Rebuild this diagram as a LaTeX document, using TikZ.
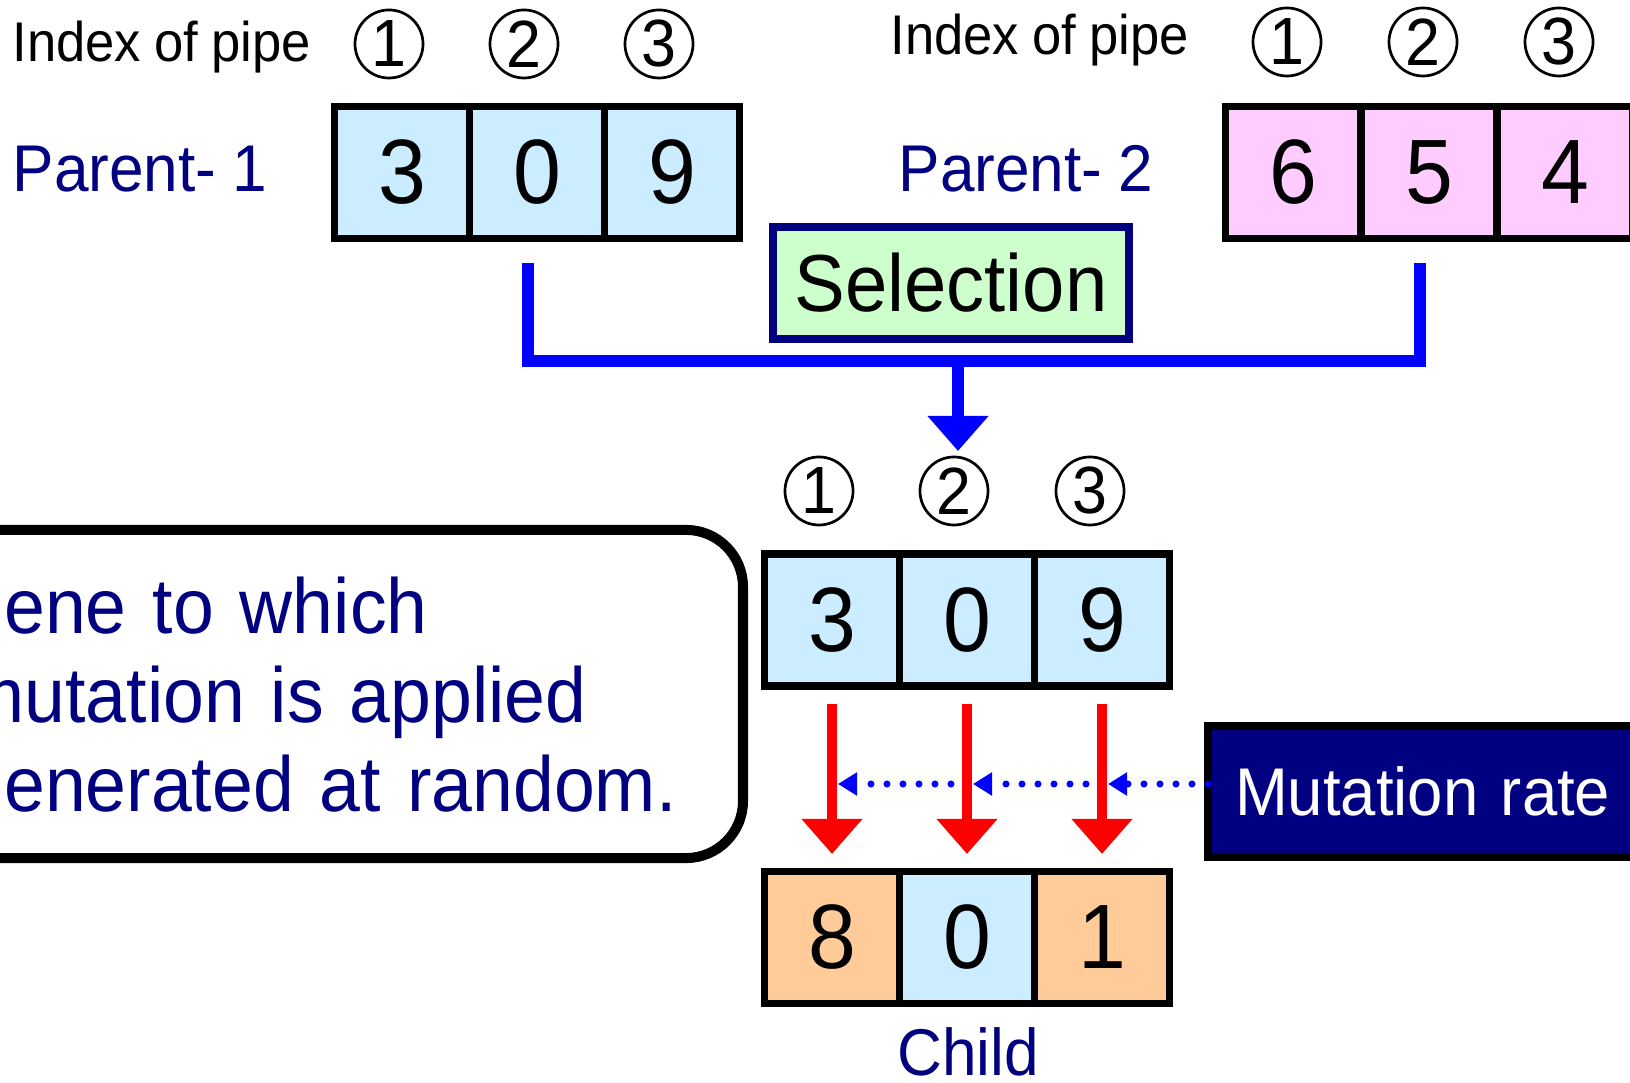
\documentclass[tikz,border=0pt]{standalone}
\usepackage{fontspec}
\setmainfont{Liberation Sans}[FakeStretch=0.94, WordSpace=0.9]
\usetikzlibrary{arrows.meta}

\definecolor{geneblue}{HTML}{CCECFF}
\definecolor{genepink}{HTML}{FFCCFF}
\definecolor{geneorange}{HTML}{FFCC99}
\definecolor{selgreen}{HTML}{CCFFCC}
\definecolor{navy}{HTML}{000080}

\tikzset{
  gene/.style={draw, line width=2.1pt, minimum width=1.35cm, minimum height=1.32cm,
    inner sep=0pt, outer sep=0pt, font=\fontsize{26}{26}\selectfont},
  idx/.style={circle, draw, line width=0.77pt, minimum size=0.68cm, inner sep=0pt,
    font=\fontsize{19}{19}\selectfont},
  pipetext/.style={inner sep=0pt, font=\fontsize{15.9}{15.9}\selectfont},
  navytext/.style={inner sep=0pt, text=navy, font=\fontsize{18.8}{18.8}\selectfont},
  selline/.style={blue, line width=3.4pt},
  mutarrow/.style={red, line width=3.1pt, -{Triangle[length=10pt,width=16.8pt]}},
  rateline/.style={blue, line width=2pt, line cap=round, dash pattern=on 0pt off 4.55pt,
    -{Triangle[length=5.4pt,width=6.3pt]}}
}

\begin{document}
\begin{tikzpicture}[x=0.01cm, y=-0.01cm]
  \path[use as bounding box, clip] (0,0) rectangle (1630,1083);

  % parent 1
  \node[pipetext, anchor=base west] (idxA) at (12,62) {Index of pipe};
  \node[idx] (a1) at (389,44) {1};
  \node[idx] (a2) at (524,44) {2};
  \node[idx] (a3) at (659,44) {3};
  \node[navytext, anchor=base west] (par1) at (12,192) {Parent- 1};
  \node[gene, fill=geneblue] (p11) at (402,172.5) {3};
  \node[gene, fill=geneblue] (p12) at (537,172.5) {0};
  \node[gene, fill=geneblue] (p13) at (672,172.5) {9};

  % parent 2
  \node[pipetext, anchor=base west] (idxB) at (890,55) {Index of pipe};
  \node[idx] (b1) at (1287,42) {1};
  \node[idx] (b2) at (1423,42) {2};
  \node[idx] (b3) at (1559,42) {3};
  \node[navytext, anchor=base west] (par2) at (898,192) {Parent- 2};
  \node[gene, fill=genepink] (p21) at (1293,172.5) {6};
  \node[gene, fill=genepink] (p22) at (1429,172.5) {5};
  \node[gene, fill=genepink] (p23) at (1565,172.5) {4};

  \node[draw=navy, line width=2.3pt, fill=selgreen, minimum width=3.56cm,
    minimum height=1.12cm, inner sep=0pt, font=\fontsize{23}{23}\selectfont]
    (sel) at (951,283) {Selection};

  % selection joins both parents
  \coordinate (join) at (958,361);
  \coordinate (pick) at (958,451);
  \draw[selline] ([xshift=-0.09cm,yshift=-0.245cm]p12.south) |- (join)
    -| ([xshift=-0.09cm,yshift=-0.245cm]p22.south);
  \draw[selline, -{Triangle[length=10pt,width=16.8pt]}] (join) -- (pick);

  % child before mutation
  \node[idx] (c1i) at (819,491) {1};
  \node[idx] (c2i) at (954,491) {2};
  \node[idx] (c3i) at (1090,491) {3};
  \node[gene, fill=geneblue] (c1) at (832,620) {3};
  \node[gene, fill=geneblue] (c2) at (967,620) {0};
  \node[gene, fill=geneblue] (c3) at (1102,620) {9};

  % child after mutation
  \node[gene, fill=geneorange] (k1) at (832,937.5) {8};
  \node[gene, fill=geneblue] (k2) at (967,937.5) {0};
  \node[gene, fill=geneorange] (k3) at (1102,937.5) {1};
  \node[navytext, anchor=base] (childlbl) at (968,1076) {Child};

  \node[draw, line width=2.85pt, rounded corners=0.57cm, anchor=east, outer sep=0pt,
    minimum height=3.28cm, text width=7.39cm, inner xsep=0.4cm, align=left,
    text=navy, font=\fontsize{22.2}{25.3}\selectfont]
    (note) at (743,694)
    {\rule{0pt}{21pt}gene to which\\mutation is applied\\generated at random.};

  \node[draw, line width=2.3pt, fill=navy, text=white, anchor=west, outer sep=0pt,
    minimum height=1.31cm, text width=4cm, inner xsep=0.27cm, align=left,
    font=\fontsize{19.2}{19.2}\selectfont] (mut) at (1208,791.5) {Mutation rate};

  % mutation rate feeds every gene
  \coordinate (mrow) at (0,784);
  \coordinate (h1) at (c1.south |- mrow);
  \coordinate (h2) at (c2.south |- mrow);
  \coordinate (h3) at (c3.south |- mrow);
  \draw[rateline] (mut.west |- mrow) -- ([xshift=0.06cm]h3);
  \draw[rateline] (h3) -- ([xshift=0.06cm]h2);
  \draw[rateline] (h2) -- ([xshift=0.06cm]h1);

  \draw[mutarrow] ([yshift=-0.18cm]c1.south) -- ([yshift=0.175cm]k1.north);
  \draw[mutarrow] ([yshift=-0.18cm]c2.south) -- ([yshift=0.175cm]k2.north);
  \draw[mutarrow] ([yshift=-0.18cm]c3.south) -- ([yshift=0.175cm]k3.north);
\end{tikzpicture}
\end{document}
